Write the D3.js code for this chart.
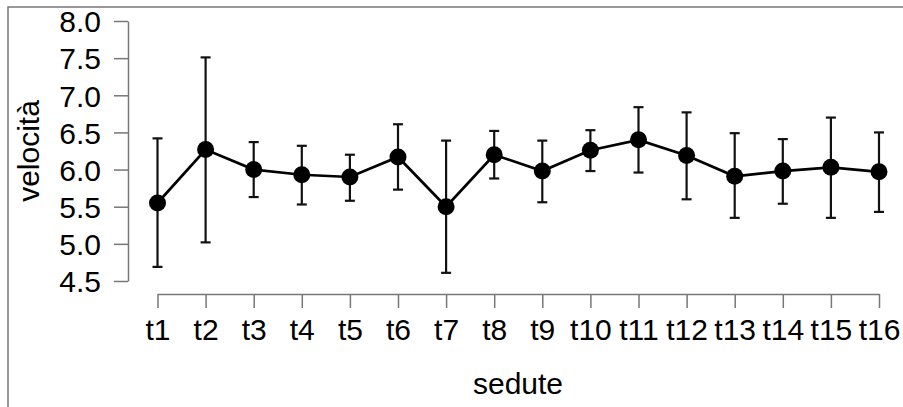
<!DOCTYPE html>
<meta charset="utf-8">
<style>
  body { margin: 0; background: white; }
  text { font-family: 'Liberation Sans', Arial, sans-serif; fill: #000; }
  .axis path, .axis line { stroke: #777; stroke-width: 1.5px; }
</style>
<svg width="903" height="407"></svg>
<script src="https://d3js.org/d3.v7.min.js"></script>
<script>
var sessions = ["t1","t2","t3","t4","t5","t6","t7","t8","t9","t10","t11","t12","t13","t14","t15","t16"];
var means = [5.55, 6.27, 6.00, 5.93, 5.90, 6.17, 5.50, 6.20, 5.98, 6.26, 6.40, 6.19, 5.91, 5.98, 6.03, 5.97];
var upper = [6.42, 7.51, 6.37, 6.32, 6.20, 6.61, 6.39, 6.52, 6.39, 6.53, 6.84, 6.77, 6.49, 6.41, 6.70, 6.50];
var lower = [4.69, 5.02, 5.63, 5.53, 5.58, 5.73, 4.61, 5.88, 5.56, 5.98, 5.96, 5.60, 5.35, 5.54, 5.35, 5.43];
var yTicks = [4.5, 5.0, 5.5, 6.0, 6.5, 7.0, 7.5, 8.0];

var svg = d3.select("svg");
var fs = 30;

// frame round the figure
svg.append("rect")
    .attr("x", 8).attr("y", 7)
    .attr("width", 900).attr("height", 410)
    .attr("fill", "none")
    .attr("stroke", "#777")
    .attr("stroke-width", 1.5);

var x = d3.scalePoint()
    .domain(sessions)
    .range([157.5, 879]);

var y = d3.scaleLinear()
    .domain([4.5, 8.0])
    .range([281, 21]);

// y axis, R style (offset from plot)
svg.append("g")
    .attr("class", "axis")
    .attr("transform", "translate(128,0)")
    .call(d3.axisLeft(y).tickValues(yTicks).tickFormat(d3.format(".1f")).tickSize(14).tickSizeOuter(0).tickPadding(13))
    .call(g => g.selectAll("text").attr("font-size", fs).attr("dy", "0.36em"));

svg.append("g")
    .attr("class", "axis")
    .attr("transform", "translate(0,294)")
    .call(d3.axisBottom(x).tickSize(14).tickSizeOuter(0).tickPadding(11))
    .call(g => g.selectAll("text").attr("font-size", fs));

svg.selectAll(".axis text").style("font-family", "'Liberation Sans', Arial, sans-serif").attr("fill", "#000");
svg.selectAll(".domain").attr("stroke", "#777");

// error bars
var bars = svg.append("g").attr("stroke", "#111").attr("stroke-width", 2.2);
sessions.forEach(function (s, i) {
    bars.append("line")
        .attr("x1", x(s)).attr("x2", x(s))
        .attr("y1", y(upper[i])).attr("y2", y(lower[i]));
    [upper[i], lower[i]].forEach(function (v) {
        bars.append("line")
            .attr("x1", x(s) - 5).attr("x2", x(s) + 5)
            .attr("y1", y(v)).attr("y2", y(v));
    });
});

var line = d3.line()
    .x(function (d, i) { return x(sessions[i]); })
    .y(function (d) { return y(d); });

svg.append("path")
    .datum(means)
    .attr("d", line)
    .attr("fill", "none")
    .attr("stroke", "#000")
    .attr("stroke-width", 2.7);

svg.selectAll(".pt")
    .data(means)
    .enter().append("circle")
    .attr("class", "pt")
    .attr("cx", function (d, i) { return x(sessions[i]); })
    .attr("cy", function (d) { return y(d); })
    .attr("r", 8.5)
    .attr("fill", "#000");

svg.append("text")
    .attr("transform", "translate(39,151) rotate(-90)")
    .attr("text-anchor", "middle")
    .attr("font-size", fs)
    .text("velocità");

svg.append("text")
    .attr("x", 518).attr("y", 394)
    .attr("text-anchor", "middle")
    .attr("font-size", fs)
    .text("sedute");
</script>
